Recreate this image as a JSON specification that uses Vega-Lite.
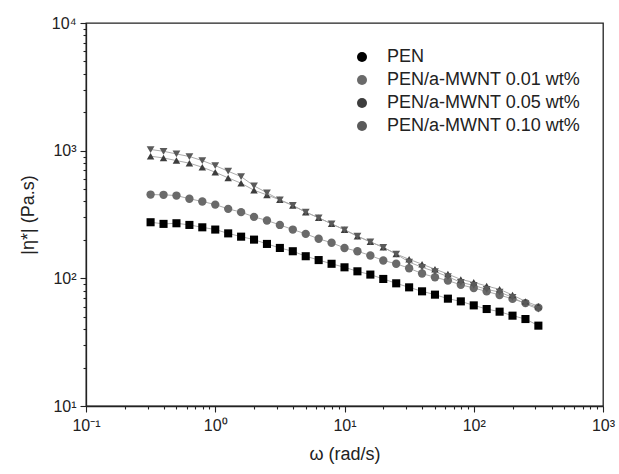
{
  "$schema": "https://vega.github.io/schema/vega-lite/v6.json",
  "width": 517,
  "height": 383,
  "autosize": {"type": "none"},
  "padding": {"left": 86, "top": 23, "right": 16, "bottom": 68},
  "background": "white",
  "config": {
    "view": {"stroke": "#222222", "strokeWidth": 1.3},
    "axis": {
      "domainColor": "#222222", "domainWidth": 1.3,
      "tickColor": "#222222", "tickWidth": 1.1,
      "labelFont": "Liberation Sans", "labelFontSize": 16, "labelColor": "#222222",
      "titleFont": "Liberation Sans", "titleFontSize": 18, "titleFontWeight": "normal", "titleColor": "#222222",
      "grid": false, "labelOverlap": false, "labelFlush": false
    },
    "legend": {
      "labelFont": "Liberation Sans", "labelFontSize": 18, "labelColor": "#222222", "labelLimit": 400,
      "symbolSize": 100, "labelOffset": 16, "rowPadding": 5, "padding": 0
    }
  },
  "data": {"values": [
    {"w":0.316,"eta":275,"s":"PEN"},{"w":0.398,"eta":267,"s":"PEN"},{"w":0.501,"eta":270,"s":"PEN"},{"w":0.631,"eta":262,"s":"PEN"},{"w":0.794,"eta":251,"s":"PEN"},{"w":1,"eta":241,"s":"PEN"},{"w":1.259,"eta":225,"s":"PEN"},{"w":1.585,"eta":212,"s":"PEN"},{"w":1.995,"eta":201,"s":"PEN"},{"w":2.512,"eta":186,"s":"PEN"},{"w":3.162,"eta":173,"s":"PEN"},{"w":3.981,"eta":163,"s":"PEN"},{"w":5.012,"eta":149,"s":"PEN"},{"w":6.31,"eta":139,"s":"PEN"},{"w":7.943,"eta":130,"s":"PEN"},{"w":10,"eta":122,"s":"PEN"},{"w":12.59,"eta":113.5,"s":"PEN"},{"w":15.85,"eta":107,"s":"PEN"},{"w":19.95,"eta":98.9,"s":"PEN"},{"w":25.12,"eta":91.4,"s":"PEN"},{"w":31.62,"eta":85,"s":"PEN"},{"w":39.81,"eta":79.1,"s":"PEN"},{"w":50.12,"eta":74.5,"s":"PEN"},{"w":63.1,"eta":69.3,"s":"PEN"},{"w":79.43,"eta":66,"s":"PEN"},{"w":100,"eta":61.4,"s":"PEN"},{"w":125.9,"eta":57.5,"s":"PEN"},{"w":158.5,"eta":54.8,"s":"PEN"},{"w":199.5,"eta":51,"s":"PEN"},{"w":251.2,"eta":48,"s":"PEN"},{"w":316.2,"eta":42.6,"s":"PEN"},
    {"w":0.316,"eta":453,"s":"PEN/a-MWNT 0.01 wt%"},{"w":0.398,"eta":451,"s":"PEN/a-MWNT 0.01 wt%"},{"w":0.501,"eta":445,"s":"PEN/a-MWNT 0.01 wt%"},{"w":0.631,"eta":420,"s":"PEN/a-MWNT 0.01 wt%"},{"w":0.794,"eta":400,"s":"PEN/a-MWNT 0.01 wt%"},{"w":1,"eta":378,"s":"PEN/a-MWNT 0.01 wt%"},{"w":1.259,"eta":350,"s":"PEN/a-MWNT 0.01 wt%"},{"w":1.585,"eta":330,"s":"PEN/a-MWNT 0.01 wt%"},{"w":1.995,"eta":303,"s":"PEN/a-MWNT 0.01 wt%"},{"w":2.512,"eta":284,"s":"PEN/a-MWNT 0.01 wt%"},{"w":3.162,"eta":262,"s":"PEN/a-MWNT 0.01 wt%"},{"w":3.981,"eta":241,"s":"PEN/a-MWNT 0.01 wt%"},{"w":5.012,"eta":223,"s":"PEN/a-MWNT 0.01 wt%"},{"w":6.31,"eta":204,"s":"PEN/a-MWNT 0.01 wt%"},{"w":7.943,"eta":190,"s":"PEN/a-MWNT 0.01 wt%"},{"w":10,"eta":173,"s":"PEN/a-MWNT 0.01 wt%"},{"w":12.59,"eta":163,"s":"PEN/a-MWNT 0.01 wt%"},{"w":15.85,"eta":151,"s":"PEN/a-MWNT 0.01 wt%"},{"w":19.95,"eta":138,"s":"PEN/a-MWNT 0.01 wt%"},{"w":25.12,"eta":130,"s":"PEN/a-MWNT 0.01 wt%"},{"w":31.62,"eta":120,"s":"PEN/a-MWNT 0.01 wt%"},{"w":39.81,"eta":109,"s":"PEN/a-MWNT 0.01 wt%"},{"w":50.12,"eta":102,"s":"PEN/a-MWNT 0.01 wt%"},{"w":63.1,"eta":96,"s":"PEN/a-MWNT 0.01 wt%"},{"w":79.43,"eta":89,"s":"PEN/a-MWNT 0.01 wt%"},{"w":100,"eta":84,"s":"PEN/a-MWNT 0.01 wt%"},{"w":125.9,"eta":79,"s":"PEN/a-MWNT 0.01 wt%"},{"w":158.5,"eta":74,"s":"PEN/a-MWNT 0.01 wt%"},{"w":199.5,"eta":69,"s":"PEN/a-MWNT 0.01 wt%"},{"w":251.2,"eta":64,"s":"PEN/a-MWNT 0.01 wt%"},{"w":316.2,"eta":59,"s":"PEN/a-MWNT 0.01 wt%"},
    {"w":0.316,"eta":905,"s":"PEN/a-MWNT 0.05 wt%"},{"w":0.398,"eta":877,"s":"PEN/a-MWNT 0.05 wt%"},{"w":0.501,"eta":836,"s":"PEN/a-MWNT 0.05 wt%"},{"w":0.631,"eta":798,"s":"PEN/a-MWNT 0.05 wt%"},{"w":0.794,"eta":742,"s":"PEN/a-MWNT 0.05 wt%"},{"w":1,"eta":678,"s":"PEN/a-MWNT 0.05 wt%"},{"w":1.259,"eta":612,"s":"PEN/a-MWNT 0.05 wt%"},{"w":1.585,"eta":556,"s":"PEN/a-MWNT 0.05 wt%"},{"w":1.995,"eta":490,"s":"PEN/a-MWNT 0.05 wt%"},{"w":2.512,"eta":450,"s":"PEN/a-MWNT 0.05 wt%"},{"w":3.162,"eta":412,"s":"PEN/a-MWNT 0.05 wt%"},{"w":3.981,"eta":372,"s":"PEN/a-MWNT 0.05 wt%"},{"w":5.012,"eta":330,"s":"PEN/a-MWNT 0.05 wt%"},{"w":6.31,"eta":298,"s":"PEN/a-MWNT 0.05 wt%"},{"w":7.943,"eta":267,"s":"PEN/a-MWNT 0.05 wt%"},{"w":10,"eta":240,"s":"PEN/a-MWNT 0.05 wt%"},{"w":12.59,"eta":214,"s":"PEN/a-MWNT 0.05 wt%"},{"w":15.85,"eta":193,"s":"PEN/a-MWNT 0.05 wt%"},{"w":19.95,"eta":175,"s":"PEN/a-MWNT 0.05 wt%"},{"w":25.12,"eta":155,"s":"PEN/a-MWNT 0.05 wt%"},{"w":31.62,"eta":141,"s":"PEN/a-MWNT 0.05 wt%"},{"w":39.81,"eta":129,"s":"PEN/a-MWNT 0.05 wt%"},{"w":50.12,"eta":118,"s":"PEN/a-MWNT 0.05 wt%"},{"w":63.1,"eta":108,"s":"PEN/a-MWNT 0.05 wt%"},{"w":79.43,"eta":98,"s":"PEN/a-MWNT 0.05 wt%"},{"w":100,"eta":93,"s":"PEN/a-MWNT 0.05 wt%"},{"w":125.9,"eta":87,"s":"PEN/a-MWNT 0.05 wt%"},{"w":158.5,"eta":82,"s":"PEN/a-MWNT 0.05 wt%"},{"w":199.5,"eta":74,"s":"PEN/a-MWNT 0.05 wt%"},{"w":251.2,"eta":66,"s":"PEN/a-MWNT 0.05 wt%"},{"w":316.2,"eta":60.5,"s":"PEN/a-MWNT 0.05 wt%"},
    {"w":0.316,"eta":1021,"s":"PEN/a-MWNT 0.10 wt%"},{"w":0.398,"eta":989,"s":"PEN/a-MWNT 0.10 wt%"},{"w":0.501,"eta":942,"s":"PEN/a-MWNT 0.10 wt%"},{"w":0.631,"eta":900,"s":"PEN/a-MWNT 0.10 wt%"},{"w":0.794,"eta":836,"s":"PEN/a-MWNT 0.10 wt%"},{"w":1,"eta":764,"s":"PEN/a-MWNT 0.10 wt%"},{"w":1.259,"eta":690,"s":"PEN/a-MWNT 0.10 wt%"},{"w":1.585,"eta":626,"s":"PEN/a-MWNT 0.10 wt%"},{"w":1.995,"eta":530,"s":"PEN/a-MWNT 0.10 wt%"},{"w":2.512,"eta":468,"s":"PEN/a-MWNT 0.10 wt%"},{"w":3.162,"eta":412,"s":"PEN/a-MWNT 0.10 wt%"},{"w":3.981,"eta":372,"s":"PEN/a-MWNT 0.10 wt%"},{"w":5.012,"eta":330,"s":"PEN/a-MWNT 0.10 wt%"},{"w":6.31,"eta":298,"s":"PEN/a-MWNT 0.10 wt%"},{"w":7.943,"eta":267,"s":"PEN/a-MWNT 0.10 wt%"},{"w":10,"eta":240,"s":"PEN/a-MWNT 0.10 wt%"},{"w":12.59,"eta":214,"s":"PEN/a-MWNT 0.10 wt%"},{"w":15.85,"eta":193,"s":"PEN/a-MWNT 0.10 wt%"},{"w":19.95,"eta":175,"s":"PEN/a-MWNT 0.10 wt%"},{"w":25.12,"eta":155,"s":"PEN/a-MWNT 0.10 wt%"},{"w":31.62,"eta":134,"s":"PEN/a-MWNT 0.10 wt%"},{"w":39.81,"eta":122,"s":"PEN/a-MWNT 0.10 wt%"},{"w":50.12,"eta":113,"s":"PEN/a-MWNT 0.10 wt%"},{"w":63.1,"eta":103,"s":"PEN/a-MWNT 0.10 wt%"},{"w":79.43,"eta":93,"s":"PEN/a-MWNT 0.10 wt%"},{"w":100,"eta":88,"s":"PEN/a-MWNT 0.10 wt%"},{"w":125.9,"eta":82,"s":"PEN/a-MWNT 0.10 wt%"},{"w":158.5,"eta":78,"s":"PEN/a-MWNT 0.10 wt%"},{"w":199.5,"eta":71,"s":"PEN/a-MWNT 0.10 wt%"},{"w":251.2,"eta":63,"s":"PEN/a-MWNT 0.10 wt%"},{"w":316.2,"eta":57.5,"s":"PEN/a-MWNT 0.10 wt%"}
  ]},
  "encoding": {
    "x": {
      "field": "w", "type": "quantitative",
      "scale": {"type": "log", "domain": [0.1, 1000], "nice": false},
      "axis": {
        "title": "ω  (rad/s)", "titlePadding": 12,
        "values": [0.1,0.2,0.3,0.4,0.5,0.6,0.7,0.8,0.9,1,2,3,4,5,6,7,8,9,10,20,30,40,50,60,70,80,90,100,200,300,400,500,600,700,800,900,1000],
        "labelExpr": "datum.value == 0.1 ? '10⁻¹' : datum.value == 1 ? '10⁰' : datum.value == 10 ? '10¹' : datum.value == 100 ? '10²' : datum.value == 1000 ? '10³' : ''",
        "tickSize": {"condition": {"test": "indexof([0.1,1,10,100,1000], datum.value) >= 0", "value": 6}, "value": 3},
        "labelPadding": 5
      }
    },
    "y": {
      "field": "eta", "type": "quantitative",
      "scale": {"type": "log", "domain": [10, 10000], "nice": false},
      "axis": {
        "title": "|η*| (Pa.s)", "titlePadding": 14,
        "values": [10,20,30,40,50,60,70,80,90,100,200,300,400,500,600,700,800,900,1000,2000,3000,4000,5000,6000,7000,8000,9000,10000],
        "labelExpr": "datum.value == 10 ? '10¹' : datum.value == 100 ? '10²' : datum.value == 1000 ? '10³' : datum.value == 10000 ? '10⁴' : ''",
        "tickSize": {"condition": {"test": "indexof([10,100,1000,10000], datum.value) >= 0", "value": 6}, "value": 3},
        "labelPadding": 4
      }
    }
  },
  "layer": [
    {
      "mark": {"type": "line", "stroke": "#ababab", "strokeWidth": 1},
      "encoding": {"detail": {"field": "s"}}
    },
    {
      "mark": {"type": "point", "filled": true, "opacity": 1, "strokeWidth": 0},
      "encoding": {
        "fill": {
          "field": "s", "type": "nominal", "title": null,
          "scale": {"domain": ["PEN","PEN/a-MWNT 0.01 wt%","PEN/a-MWNT 0.05 wt%","PEN/a-MWNT 0.10 wt%"], "range": ["#000000","#6a6a6a","#3d3d3d","#5a5a5a"]},
          "legend": {
            "orient": "none", "legendX": 267, "legendY": 25,
            "encode": {"symbols": {
              "shape": {
                "condition": [
                  {"test": "datum.value == 'PEN'", "value": "M-4.2,0H-0.7M0.7,0H4.2M-0.7,-0.7H0.7V0.7H-0.7Z"},
                  {"test": "datum.value == 'PEN/a-MWNT 0.01 wt%'", "value": "M-4.2,0H-0.9M0.9,0H4.2M-0.9,0A0.9,0.9,0,1,0,0.9,0A0.9,0.9,0,1,0,-0.9,0Z"},
                  {"test": "datum.value == 'PEN/a-MWNT 0.05 wt%'", "value": "M-4.2,0H-0.55M0.55,0H4.2M0,-0.85L0.95,0.75H-0.95Z"}
                ],
                "value": "M-4.2,0H-0.55M0.55,0H4.2M0,0.85L0.95,-0.75H-0.95Z"
              },
              "size": {"value": 100},
              "stroke": {"value": "#9a9a9a"},
              "strokeWidth": {"value": 1},
              "opacity": {"value": 1}
            }}
          }
        },
        "shape": {
          "field": "s", "type": "nominal", "legend": null,
          "scale": {"domain": ["PEN/a-MWNT 0.10 wt%","PEN/a-MWNT 0.05 wt%","PEN/a-MWNT 0.01 wt%","PEN"], "range": ["triangle-down","triangle-up","circle","square"]}
        },
        "size": {
          "field": "s", "type": "nominal", "legend": null,
          "scale": {"domain": ["PEN/a-MWNT 0.01 wt%","PEN","PEN/a-MWNT 0.10 wt%","PEN/a-MWNT 0.05 wt%"], "range": [70, 56, 100, 100]}
        }
      }
    }
  ]
}
